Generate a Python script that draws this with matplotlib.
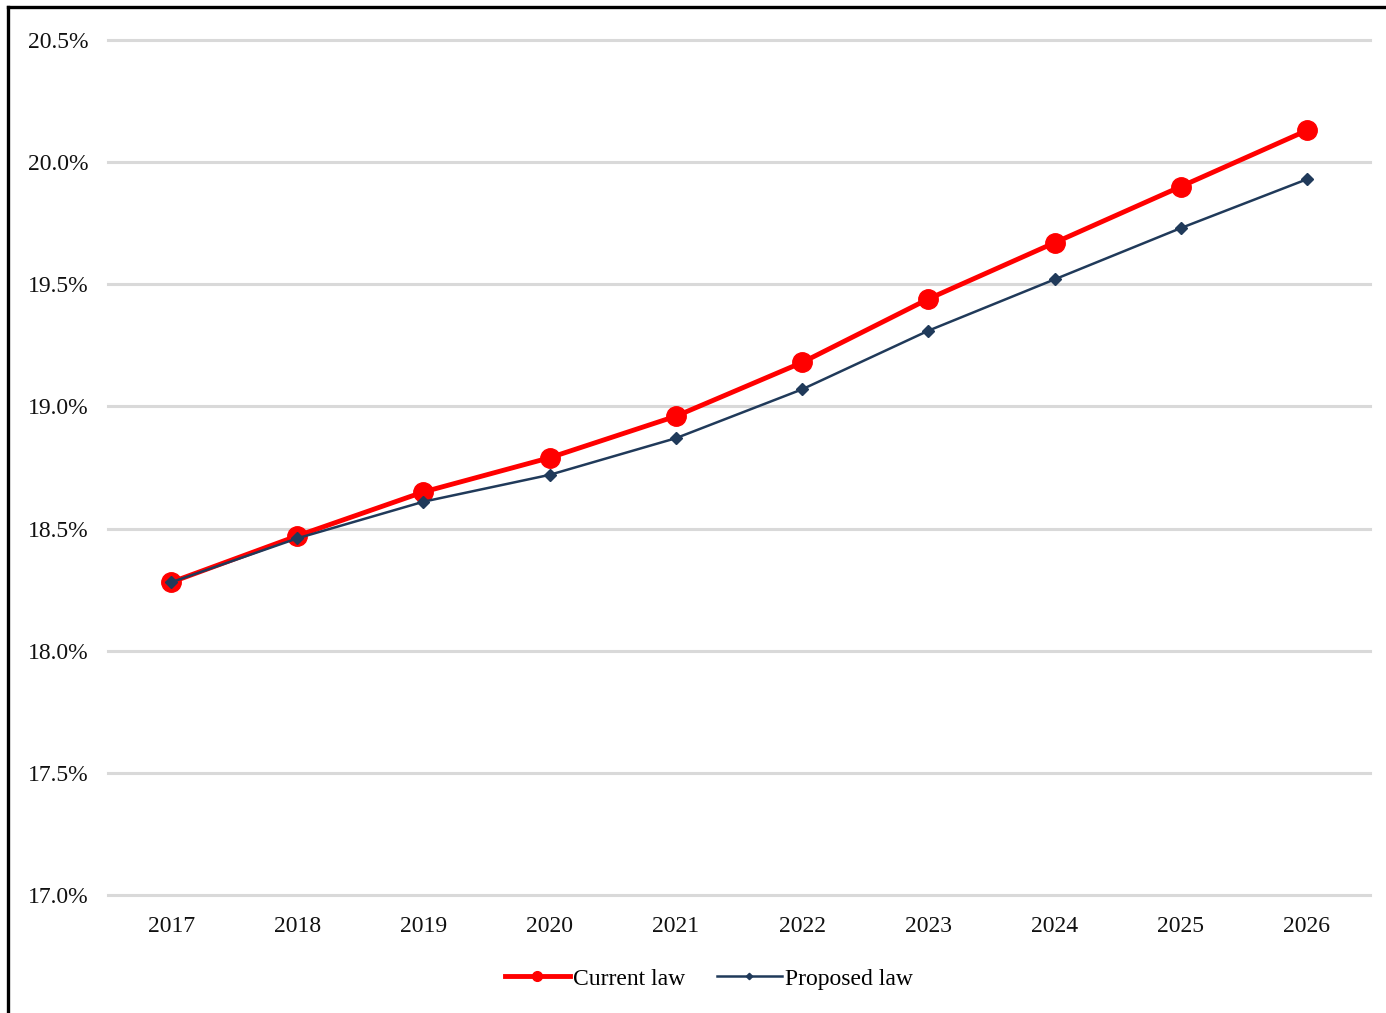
import matplotlib.pyplot as plt
from matplotlib.lines import Line2D
import numpy as np

years = ["2017", "2018", "2019", "2020", "2021", "2022", "2023", "2024", "2025", "2026"]
current_law = [18.28, 18.47, 18.65, 18.79, 18.96, 19.18, 19.44, 19.67, 19.90, 20.13]
proposed_law = [18.28, 18.46, 18.61, 18.72, 18.87, 19.07, 19.31, 19.52, 19.73, 19.93]
yticks = [17.0, 17.5, 18.0, 18.5, 19.0, 19.5, 20.0, 20.5]

plt.rcParams['font.family'] = ['Liberation Serif', 'DejaVu Serif']

fig = plt.figure(figsize=(13.86, 10.13), dpi=100)
ax = fig.add_axes([0.0779, 0.1165, 0.9106, 0.844])

x = np.arange(len(years))
ax.plot(x, current_law, color='#FF0000', lw=3.5, marker='o', markersize=14,
        label='Current law', zorder=3)
ax.plot(x, proposed_law, color='#203A5A', lw=1.8, marker='D', markersize=6.5,
        label='Proposed law', zorder=4)

ax.set_xlim(-0.5, len(years) - 0.5)
ax.set_ylim(17.0, 20.5)
ax.set_yticks(yticks)
ax.set_yticklabels([f"{v:.1f}%" for v in yticks])
ax.set_xticks(x)
ax.set_xticklabels(years)
ax.tick_params(length=0, labelsize=17, colors='#111111')
ax.tick_params(axis='y', pad=14)
ax.tick_params(axis='x', pad=15)
ax.grid(axis='y', color='#D9D9D9', lw=2.2)
for gl in ax.get_ygridlines():
    gl.set_clip_on(False)
ax.set_axisbelow(True)
for s in ax.spines.values():
    s.set_visible(False)

leg = ax.legend(loc='center', bbox_to_anchor=(0.476, -0.098), ncol=2,
                frameon=False, fontsize=17, handlelength=2.75, handletextpad=0.13,
                columnspacing=1.35, markerscale=0.5)

# outer frame lines (left and top)
fig.add_artist(Line2D([7.5 / 1386, 7.5 / 1386], [0, 1 - 7.5 / 1013], color='black', lw=2.4,
                      transform=fig.transFigure))
fig.add_artist(Line2D([7.5 / 1386, 1], [1 - 7.5 / 1013, 1 - 7.5 / 1013], color='black', lw=2.4,
                      transform=fig.transFigure))

fig.savefig("out.png", dpi=100)
